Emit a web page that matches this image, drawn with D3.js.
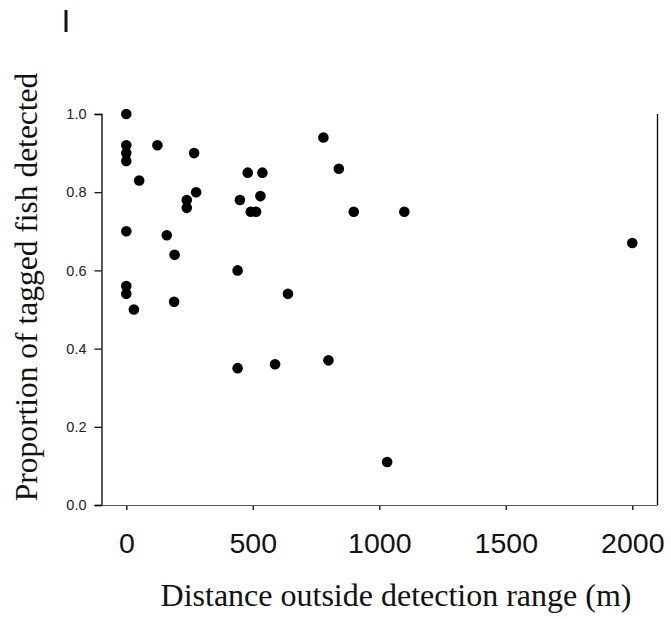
<!DOCTYPE html>
<html>
<head>
<meta charset="utf-8">
<script src="https://cdn.jsdelivr.net/npm/d3@7"></script>
<style>
  body { margin: 0; background: #fff; }
  svg { display: block; }
</style>
</head>
<body>
<svg id="chart" width="671" height="619"></svg>
<script>
  // distance outside detection range (m)
  const distance = [0, 0, 0, 0, 51, 123, 268, 276, 239, 239, 0, 160, 191, 440, 449, 480, 538,
    530, 492, 513, 0, 0, 30, 189, 440, 588, 639, 779, 840, 899, 1099, 799, 1031, 2000];
  // proportion of tagged fish detected
  const proportion = [1.0, 0.92, 0.90, 0.88, 0.83, 0.92, 0.90, 0.80, 0.78, 0.76, 0.70, 0.69, 0.64,
    0.60, 0.78, 0.85, 0.85, 0.79, 0.75, 0.75, 0.56, 0.54, 0.50, 0.52, 0.35, 0.36, 0.54, 0.94,
    0.86, 0.75, 0.75, 0.37, 0.11, 0.67];

  const xTicks = [0, 500, 1000, 1500, 2000];
  const yTicks = [0.0, 0.2, 0.4, 0.6, 0.8, 1.0];

  const svg = d3.select("#chart");

  const x = d3.scaleLinear().domain([0, 2000]).range([126.3, 632.3]);
  const y = d3.scaleLinear().domain([0, 1]).range([505, 114]);

  const axisLeftX = 101.5;
  const rightX = 657.5;

  // Y AXIS
  const yAxis = svg.append("g")
      .attr("transform", `translate(${axisLeftX},0)`)
      .call(d3.axisLeft(y).tickValues(yTicks).tickFormat(d3.format(".1f")).tickSizeOuter(0).tickSize(7).tickPadding(8));
  yAxis.select(".domain").attr("stroke", "#000").attr("stroke-width", 1.3);
  yAxis.selectAll(".tick line").attr("stroke", "#000").attr("stroke-width", 1.2);
  yAxis.selectAll("text")
      .attr("font-family", "'Liberation Sans', Arial, sans-serif")
      .attr("font-size", 14.5)
      .attr("fill", "#222");

  // X AXIS
  const xAxis = svg.append("g")
      .attr("transform", "translate(0,505)")
      .call(d3.axisBottom(x).tickValues(xTicks).tickFormat(d3.format("d")).tickSize(5));
  xAxis.select(".domain").remove();
  xAxis.append("line")
      .attr("x1", axisLeftX).attr("x2", rightX)
      .attr("y1", 0.5).attr("y2", 0.5)
      .attr("stroke", "#555").attr("stroke-width", 1);
  xAxis.selectAll(".tick line").attr("stroke", "#222").attr("stroke-width", 1.5);
  xAxis.selectAll("text")
      .attr("y", 48)
      .attr("dy", null)
      .attr("font-family", "'Liberation Sans', Arial, sans-serif")
      .attr("font-size", 28.5)
      .attr("fill", "#111");

  // right border line
  svg.append("line")
      .attr("x1", rightX).attr("x2", rightX)
      .attr("y1", y(1)).attr("y2", y(0))
      .attr("stroke", "#000").attr("stroke-width", 1.3);

  // POINTS
  svg.append("g").selectAll("circle")
      .data(distance.map((d, i) => [d, proportion[i]]))
      .enter().append("circle")
      .attr("cx", d => x(d[0]))
      .attr("cy", d => y(d[1]))
      .attr("r", 5.3)
      .attr("fill", "#000");

  // TITLES
  svg.append("text")
      .attr("x", 396)
      .attr("y", 606)
      .attr("text-anchor", "middle")
      .attr("font-family", "'Liberation Serif', 'Times New Roman', serif")
      .attr("font-size", 32)
      .attr("fill", "#111")
      .text("Distance outside detection range (m)");

  svg.append("text")
      .attr("transform", "translate(36.5,287) rotate(-90)")
      .attr("text-anchor", "middle")
      .attr("font-family", "'Liberation Serif', 'Times New Roman', serif")
      .attr("font-size", 31.5)
      .attr("fill", "#111")
      .text("Proportion of tagged fish detected");

  // stray panel mark at top left
  svg.append("text")
      .attr("x", 61.5)
      .attr("y", 32)
      .attr("font-family", "'Liberation Sans', Arial, sans-serif")
      .attr("font-size", 32)
      .attr("fill", "#111")
      .text("I");
</script>
</body>
</html>
